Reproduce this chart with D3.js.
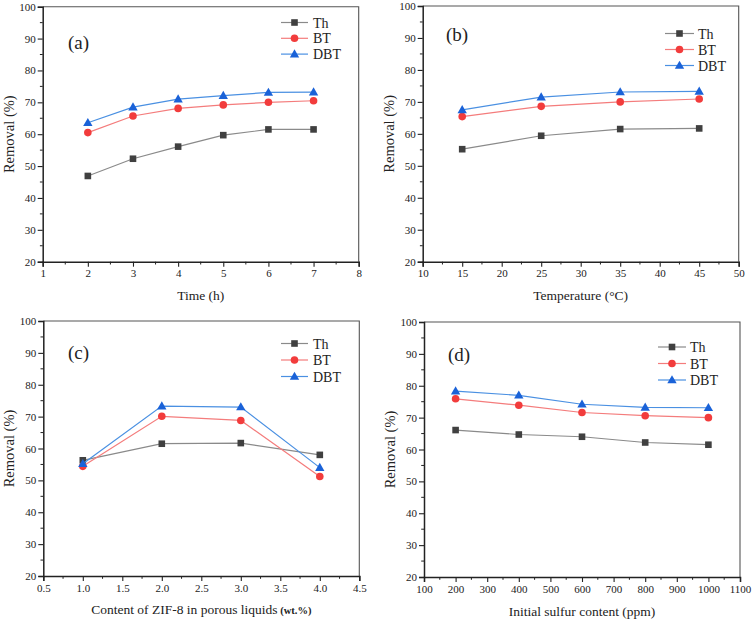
<!DOCTYPE html>
<html>
<head>
<meta charset="utf-8">
<script src="https://cdn.jsdelivr.net/npm/d3@7"></script>
<style>
  html, body { margin: 0; padding: 0; background: #fff; }
  svg { display: block; }
  svg text { font-family: "Liberation Serif", "Times New Roman", "DejaVu Serif", serif; }
</style>
</head>
<body>
<svg id="chart" width="753" height="620"></svg>
<script>
// ---------- DATA ----------
const seriesNames = ["Th", "BT", "DBT"];

// (a) Time (h)
const timeX = [2, 3, 4, 5, 6, 7];
const timeTh = [46.9, 52.3, 56.1, 59.7, 61.5, 61.5];
const timeBT = [60.5, 65.7, 68.1, 69.2, 70.0, 70.5];
const timeDBT = [63.6, 68.5, 71.0, 72.1, 73.1, 73.2];

// (b) Temperature (°C)
const tempX = [15, 25, 35, 45];
const tempTh = [55.2, 59.4, 61.5, 61.7];
const tempBT = [65.4, 68.6, 70.0, 70.9];
const tempDBT = [67.5, 71.5, 73.1, 73.3];

// (c) Content of ZIF-8 (wt.%)
const zifX = [1, 2, 3, 4];
const zifTh = [56.3, 61.5, 61.7, 58.0];
const zifBT = [54.4, 70.1, 68.8, 51.2];
const zifDBT = [55.2, 73.3, 73.0, 54.0];

// (d) Initial sulfur content (ppm)
const sulfX = [200, 400, 600, 800, 1000];
const sulfTh = [66.1, 64.7, 64.0, 62.2, 61.5];
const sulfBT = [75.9, 73.9, 71.6, 70.6, 70.0];
const sulfDBT = [78.3, 77.0, 74.2, 73.2, 73.1];

// tick labels
const yTicks = [20, 30, 40, 50, 60, 70, 80, 90, 100];
const timeTicks = [1, 2, 3, 4, 5, 6, 7, 8];
const tempTicks = [10, 15, 20, 25, 30, 35, 40, 45, 50];
const zifTicks = [0.5, 1.0, 1.5, 2.0, 2.5, 3.0, 3.5, 4.0, 4.5];
const sulfTicks = [100, 200, 300, 400, 500, 600, 700, 800, 900, 1000, 1100];

// ---------- STYLE / LAYOUT ----------
const FONT = '"Liberation Serif", "Times New Roman", "DejaVu Serif", serif';
const lineColors = { Th: "#8a8a8a", BT: "#f47c7c", DBT: "#4a90e2" };
const markColors = { Th: "#404040", BT: "#f23c3c", DBT: "#1a62d8" };

const panels = [
  { label: "(a)", x: timeX, series: [timeTh, timeBT, timeDBT], xDomain: [1, 8], xTicks: timeTicks, xMinor: 0.5, fmt: d3.format("d"),
    rect: { l: 42.7, r: 358.7, t: 6.7, b: 261.7 }, title: ["Time (h)"], titleY: 300,
    labelPos: [68, 49], legend: { x1: 281, x2: 308, tx: 313, y: 22.5, dy: 15.8 } },
  { label: "(b)", x: tempX, series: [tempTh, tempBT, tempDBT], xDomain: [10, 50], xTicks: tempTicks, xMinor: 2.5, fmt: d3.format("d"),
    rect: { l: 422.7, r: 738.7, t: 6, b: 261.7 }, title: ["Temperature (°C)"], titleY: 300,
    labelPos: [446, 41], legend: { x1: 665, x2: 694, tx: 698, y: 33.5, dy: 16 } },
  { label: "(c)", x: zifX, series: [zifTh, zifBT, zifDBT], xDomain: [0.5, 4.5], xTicks: zifTicks, xMinor: 0.25, fmt: d3.format(".1f"),
    rect: { l: 43.3, r: 359.3, t: 321, b: 576 }, title: ["Content of ZIF-8 in porous liquids", " (wt.%)"], titleY: 614,
    labelPos: [68, 359], legend: { x1: 281, x2: 308, tx: 313, y: 343.5, dy: 16.5 } },
  { label: "(d)", x: sulfX, series: [sulfTh, sulfBT, sulfDBT], xDomain: [100, 1100], xTicks: sulfTicks, xMinor: 50, fmt: d3.format("d"),
    rect: { l: 424, r: 740, t: 322, b: 577 }, title: ["Initial sulfur content (ppm)"], titleY: 616,
    labelPos: [448, 361], legend: { x1: 658, x2: 686, tx: 690, y: 347, dy: 16.5 } }
];

const svg = d3.select("#chart");

function drawMarker(g, name, cx, cy) {
  const c = markColors[name];
  if (name === "Th") {
    g.append("rect").attr("x", cx - 3.3).attr("y", cy - 3.3).attr("width", 6.6).attr("height", 6.6).attr("fill", c);
  } else if (name === "BT") {
    g.append("circle").attr("cx", cx).attr("cy", cy).attr("r", 3.8).attr("fill", c);
  } else {
    const s = d3.symbol().type(d3.symbolTriangle).size(38)();
    g.append("path").attr("d", s).attr("transform", `translate(${cx},${cy + 0.6})`).attr("fill", c);
  }
}

panels.forEach(p => {
  const R = p.rect;
  const x = d3.scaleLinear().domain(p.xDomain).range([R.l, R.r]);
  const y = d3.scaleLinear().domain([20, 100]).range([R.b, R.t]);
  const g = svg.append("g").attr("font-family", FONT);

  // frame (top & right)
  g.append("path")
    .attr("d", `M${R.l},${R.t}H${R.r}V${R.b}`)
    .attr("fill", "none").attr("stroke", "#555").attr("stroke-width", 1.1);

  // minor ticks
  const yMinor = d3.range(25, 100, 10);
  g.selectAll(null).data(yMinor).enter().append("line")
    .attr("x1", R.l).attr("x2", R.l - 2.8).attr("y1", d => y(d)).attr("y2", d => y(d))
    .attr("stroke", "#222").attr("stroke-width", 1);
  const xMinorVals = [];
  for (let v = p.xDomain[0] + p.xMinor; v < p.xDomain[1]; v += p.xMinor * 2) xMinorVals.push(v);
  g.selectAll(null).data(xMinorVals).enter().append("line")
    .attr("x1", d => x(d)).attr("x2", d => x(d)).attr("y1", R.b).attr("y2", R.b + 2.8)
    .attr("stroke", "#222").attr("stroke-width", 1);

  // axes
  const yAxis = d3.axisLeft(y).tickValues(yTicks).tickSize(5).tickPadding(2).tickFormat(d3.format("d"));
  const ya = g.append("g").attr("transform", `translate(${R.l},0)`).call(yAxis);
  const xAxis = d3.axisBottom(x).tickValues(p.xTicks).tickSize(5).tickPadding(3).tickFormat(p.fmt);
  const xa = g.append("g").attr("transform", `translate(0,${R.b})`).call(xAxis);
  [ya, xa].forEach(a => {
    a.attr("font-family", FONT).attr("font-size", 11);
    a.select(".domain").attr("stroke", "#222").attr("stroke-width", 1.5);
    a.selectAll(".tick line").attr("stroke", "#222").attr("stroke-width", 1.1);
    a.selectAll(".tick text").attr("fill", "#222").attr("font-size", 11).style("font-family", FONT);
  });

  // axis titles
  g.append("text")
    .attr("transform", `translate(${R.l - 29},${(R.t + R.b) / 2}) rotate(-90)`)
    .attr("text-anchor", "middle").attr("font-size", 14.5).attr("fill", "#222")
    .style("font-family", FONT)
    .text("Removal (%)");
  const xt = g.append("text")
    .attr("x", (R.l + R.r) / 2).attr("y", p.titleY)
    .attr("text-anchor", "middle").attr("font-size", 13.5).attr("fill", "#222")
    .style("font-family", FONT);
  xt.append("tspan").text(p.title[0]);
  if (p.title[1]) xt.append("tspan").attr("font-size", 10.5).attr("font-weight", "bold").text(p.title[1]);

  // panel label
  g.append("text").attr("x", p.labelPos[0]).attr("y", p.labelPos[1])
    .attr("font-size", 19).attr("fill", "#222").style("font-family", FONT).text(p.label);

  // series
  const line = d3.line().x(d => x(d[0])).y(d => y(d[1]));
  p.series.forEach((vals, i) => {
    const name = seriesNames[i];
    const pts = p.x.map((xv, j) => [xv, vals[j]]);
    g.append("path").attr("d", line(pts)).attr("fill", "none")
      .attr("stroke", lineColors[name]).attr("stroke-width", 1.2);
    pts.forEach(d => drawMarker(g, name, x(d[0]), y(d[1])));
  });

  // legend
  const L = p.legend;
  seriesNames.forEach((name, i) => {
    const ly = L.y + i * L.dy;
    g.append("line").attr("x1", L.x1).attr("x2", L.x2).attr("y1", ly).attr("y2", ly)
      .attr("stroke", lineColors[name]).attr("stroke-width", 1.2);
    drawMarker(g, name, (L.x1 + L.x2) / 2, ly);
    g.append("text").attr("x", L.tx).attr("y", ly + 5).attr("font-size", 14).attr("fill", "#222")
      .style("font-family", FONT).text(name);
  });
});
</script>
</body>
</html>
